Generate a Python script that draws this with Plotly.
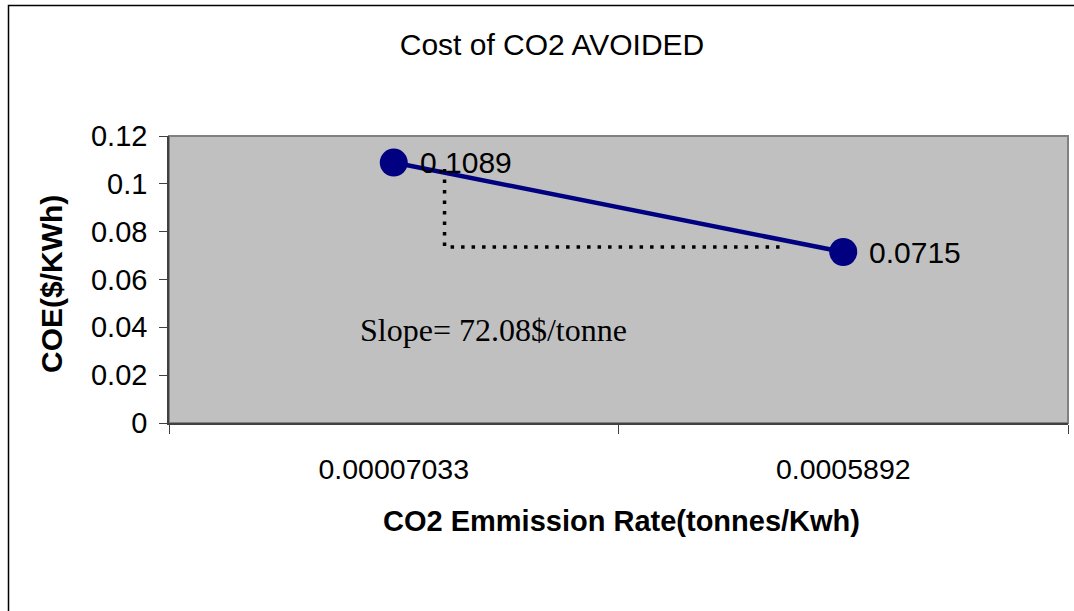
import plotly.graph_objects as go

# ---- data ----
categories = ["0.00007033", "0.0005892"]
coe_values = [0.1089, 0.0715]
value_labels = ["0.1089", "0.0715"]
y_ticks = [0, 0.02, 0.04, 0.06, 0.08, 0.1, 0.12]
y_tick_labels = ["0", "0.02", "0.04", "0.06", "0.08", "0.1", "0.12"]
guide_x = [0.113, 0.113, 0.859]      # dotted slope guide (category index units)
guide_y = [0.1062, 0.0736, 0.0736]
slope_text = "Slope= 72.08$/tonne"

W, H = 1074, 611
L, R, T, B = 169, 6, 136, 188
pw, ph = W - L - R, H - T - B

def px_x(p):
    return (p - L) / pw

def px_y(p):
    return (H - B - p) / ph

SANS = "Liberation Sans, Arial"
SERIF = "Liberation Serif, Times New Roman"

fig = go.Figure()
fig.add_trace(go.Scatter(
    x=categories, y=coe_values, mode="lines+markers",
    line=dict(color="#000080", width=4.5),
    marker=dict(color="#000080", size=28),
    hoverinfo="skip", showlegend=False,
))

shapes = []
# outer chart frame (only top and left edges fall inside the view)
frame = "M {} {} L {} {} L {} {}".format(px_x(1074), px_y(5.5), px_x(8.5), px_y(5.5), px_x(8.5), px_y(611))
shapes.append(dict(type="path", xref="paper", yref="paper", path=frame,
                   line=dict(color="black", width=1.5), layer="below"))
# plot area border
shapes.append(dict(type="rect", xref="paper", yref="paper",
                   x0=0, x1=1, y0=0, y1=1,
                   line=dict(color="#808080", width=2), layer="below"))
# dotted guide
path = "M {} {} L {} {} L {} {}".format(guide_x[0], guide_y[0], guide_x[1], guide_y[1], guide_x[2], guide_y[2])
shapes.append(dict(type="path", xref="x", yref="y", path=path,
                   line=dict(color="black", width=3.5, dash="3.5px,7px")))

annotations = []
for i, (c, v, t) in enumerate(zip(categories, coe_values, value_labels)):
    annotations.append(dict(x=i, y=v, xref="x", yref="y", text=t, showarrow=False,
                            xanchor="left", yanchor="middle", xshift=24,
                            font=dict(family=SANS, size=30, color="black")))
annotations.append(dict(x=0.221, y=0.0389, xref="x", yref="y", text=slope_text, showarrow=False,
                        xanchor="center", yanchor="middle",
                        font=dict(family=SERIF, size=32, color="black")))
annotations.append(dict(x=px_x(621), y=px_y(521), xref="paper", yref="paper",
                        text="<b>CO2 Emmission Rate(tonnes/Kwh)</b>", showarrow=False,
                        xanchor="center", yanchor="middle",
                        font=dict(family=SANS, size=29, color="black")))
annotations.append(dict(x=px_x(51), y=px_y(284), xref="paper", yref="paper",
                        text="<b>COE($/KWh)</b>", showarrow=False, textangle=-90,
                        xanchor="center", yanchor="middle",
                        font=dict(family=SANS, size=30, color="black")))

fig.update_layout(
    width=W, height=H,
    margin=dict(l=L, r=R, t=T, b=B, pad=0),
    paper_bgcolor="white", plot_bgcolor="#C0C0C0",
    title=dict(text="Cost of CO2 AVOIDED", x=552 / W, xref="container", xanchor="center",
               y=1 - 44 / H, yref="container", yanchor="middle",
               font=dict(family=SANS, size=30, color="black")),
    shapes=shapes, annotations=annotations,
    font=dict(family=SANS, color="black"),
)
fig.update_xaxes(type="category", range=[-0.5, 1.5], tickson="boundaries",
                 ticks="outside", ticklen=9, tickcolor="#404040", tickwidth=1,
                 showline=True, linecolor="#404040", linewidth=2,
                 showgrid=False, zeroline=False, ticklabelstandoff=20,
                 tickfont=dict(family=SANS, size=28.5, color="black"),
                 fixedrange=True)
fig.update_yaxes(range=[0, 0.12], tickvals=y_ticks, ticktext=y_tick_labels,
                 ticks="outside", ticklen=8, tickcolor="#404040", tickwidth=1,
                 showline=True, linecolor="#404040", linewidth=1.5,
                 showgrid=False, zeroline=False, ticklabelstandoff=6,
                 tickfont=dict(family=SANS, size=29, color="black"),
                 fixedrange=True)

fig.write_html("out.html", config={"displayModeBar": False},
               post_script="document.body.style.margin='0px';document.body.style.overflow='hidden';")
